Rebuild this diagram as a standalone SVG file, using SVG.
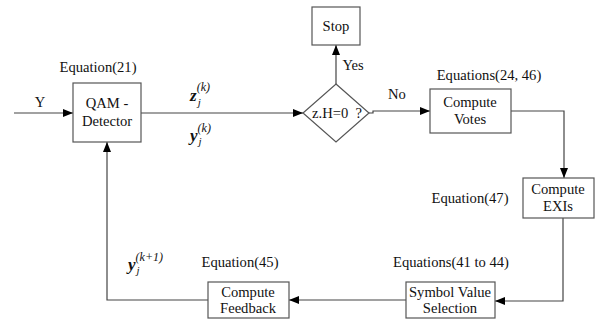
<svg xmlns="http://www.w3.org/2000/svg" width="611" height="320" viewBox="0 0 611 320">
<defs>
<marker id="ah" markerWidth="10" markerHeight="8" refX="10" refY="4" orient="auto" markerUnits="userSpaceOnUse">
<path d="M0,0 L10,4 L0,8 z" fill="#000"/>
</marker>
<style>
.box{fill:#fff;stroke:#555;stroke-width:1.2}
.ln{fill:none;stroke:#444;stroke-width:1.2}
text{font-family:"Liberation Serif","DejaVu Serif",serif;font-size:14.6px;fill:#111}
.c{text-anchor:middle}
.m{font-style:italic;font-weight:bold;font-size:17px}
.s{font-style:italic;font-size:11px}
.p{font-style:italic;font-size:12px}
</style>
</defs>
<rect width="611" height="320" fill="#fff"/>
<g id="connectors">
<path class="ln" d="M14,113 H73" marker-end="url(#ah)"/>
<path class="ln" d="M141,113 H303" marker-end="url(#ah)"/>
<path class="ln" d="M336,84 V45" marker-end="url(#ah)"/>
<path class="ln" d="M369,113 H373 V111 H430" marker-end="url(#ah)"/>
<path class="ln" d="M511,111 H564 V178" marker-end="url(#ah)"/>
<path class="ln" d="M563,218 V301 H495" marker-end="url(#ah)"/>
<path class="ln" d="M406,300 H289" marker-end="url(#ah)"/>
<path class="ln" d="M208,300 H107 V142" marker-end="url(#ah)"/>
<text x="40" y="107" class="c">Y</text>
<text x="353" y="70" class="c">Yes</text>
<text x="397" y="99" class="c">No</text>
<text x="190" y="101"><tspan class="m">z</tspan><tspan class="s" dx="1" dy="5">j</tspan><tspan class="p" dx="-4" dy="-15">(k)</tspan></text>
<text x="190" y="141"><tspan class="m">y</tspan><tspan class="s" dx="1" dy="4">j</tspan><tspan class="p" dx="-4" dy="-13">(k)</tspan></text>
<text x="128" y="270"><tspan class="m">y</tspan><tspan class="s" dx="1" dy="4">j</tspan><tspan class="p" dx="-4" dy="-13">(k+1)</tspan></text>
</g>
<g id="qam">
<rect class="box" x="73" y="83" width="68" height="59"/>
<text x="107" y="108" class="c">QAM -</text>
<text x="107" y="126" class="c">Detector</text>
<text x="98" y="72" class="c">Equation(21)</text>
</g>
<g id="decision">
<path class="box" d="M336,84 L369,113 L336,142 L303,113 z"/>
<text x="337" y="118" class="c">z.H=0&#160; ?</text>
</g>
<g id="stop">
<rect class="box" x="312" y="7" width="48" height="38"/>
<text x="336" y="31" class="c">Stop</text>
</g>
<g id="votes">
<rect class="box" x="430" y="89" width="81" height="44"/>
<text x="470" y="107" class="c">Compute</text>
<text x="470" y="124" class="c">Votes</text>
<text x="489" y="80" class="c">Equations(24, 46)</text>
</g>
<g id="exis">
<rect class="box" x="523" y="178" width="71" height="40"/>
<text x="558" y="194" class="c">Compute</text>
<text x="558" y="211" class="c">EXIs</text>
<text x="470" y="203" class="c">Equation(47)</text>
</g>
<g id="symbol">
<rect class="box" x="406" y="282" width="89" height="36"/>
<text x="450" y="297" class="c">Symbol Value</text>
<text x="450" y="313" class="c">Selection</text>
<text x="451" y="267" class="c">Equations(41 to 44)</text>
</g>
<g id="feedback">
<rect class="box" x="208" y="282" width="81" height="36"/>
<text x="248" y="297" class="c">Compute</text>
<text x="248" y="313" class="c">Feedback</text>
<text x="240" y="267" class="c">Equation(45)</text>
</g>
</svg>
